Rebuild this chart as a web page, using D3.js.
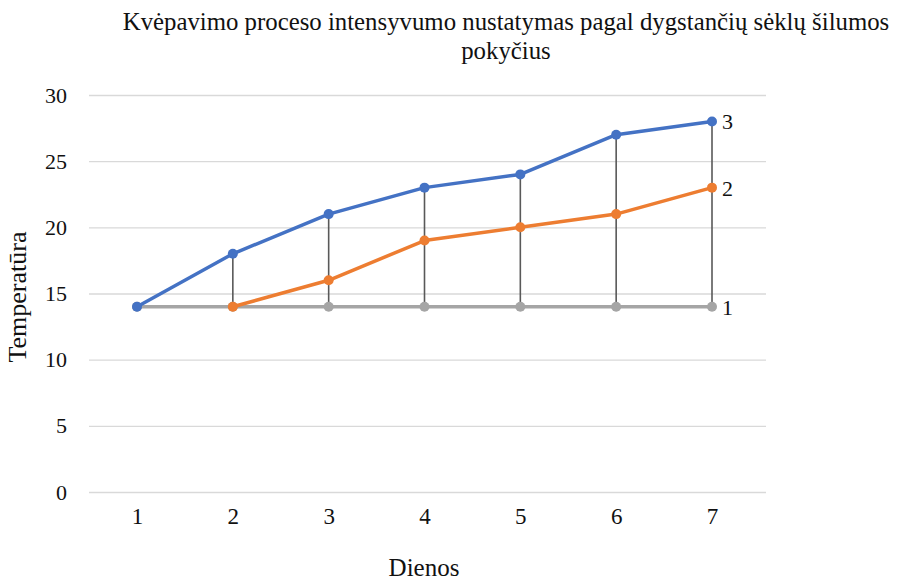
<!DOCTYPE html>
<meta charset="utf-8">
<style>
    body { margin: 0; background: #fff; }
    .grid line { stroke: #d9d9d9; stroke-width: 1.3px; }
    .grid path { stroke-width: 0; }
    .axis path, .axis line { display: none; }
    .drop { stroke: #595959; stroke-width: 1.6px; }
</style>
<body>
<script src="https://d3js.org/d3.v7.min.js"></script>
<script>
    // data
    var days = ["1", "2", "3", "4", "5", "6", "7"];
    var series1 = [14, 14, 14, 14, 14, 14, 14];
    var series2 = [null, 14, 16, 19, 20, 21, 23];
    var series3 = [14, 18, 21, 23, 24, 27, 28];
    var yTicks = [0, 5, 10, 15, 20, 25, 30];
    var seriesNames = ["1", "2", "3"];
    var colors = ["#a5a5a5", "#ed7d31", "#4472c4"];

    var serif = "'Times New Roman', 'Liberation Serif', serif";
    var ink = "#111";

    var W = 899, H = 582;
    var svg = d3.select("body").append("svg")
        .attr("width", W)
        .attr("height", H);

    var x = d3.scalePoint().domain(days).range([137, 712]);
    var y = d3.scaleLinear().domain([0, 30]).range([492, 95]);

    function label(sel, size) {
        return sel.style("font-family", serif)
            .style("font-size", size + "px")
            .attr("fill", ink);
    }

    // title
    label(svg.append("text"), 24.8)
        .attr("x", 506).attr("y", 30)
        .attr("text-anchor", "middle")
        .text("Kvėpavimo proceso intensyvumo nustatymas pagal dygstančių sėklų šilumos");
    label(svg.append("text"), 24.8)
        .attr("x", 506).attr("y", 59)
        .attr("text-anchor", "middle")
        .text("pokyčius");

    // gridlines
    svg.append("g")
        .attr("class", "grid")
        .attr("transform", "translate(89,0)")
        .call(d3.axisLeft(y).tickValues(yTicks).tickSize(-677).tickFormat(""));

    // y axis labels
    label(svg.append("g")
        .attr("class", "axis")
        .attr("transform", "translate(67,0)")
        .call(d3.axisLeft(y).tickValues(yTicks).tickSize(0).tickPadding(0))
        .selectAll("text"), 22);

    // x axis labels
    label(svg.append("g")
        .attr("class", "axis")
        .attr("transform", "translate(0,508)")
        .call(d3.axisBottom(x).tickSize(0).tickPadding(0))
        .selectAll("text"), 23);

    // axis titles
    label(svg.append("text"), 25)
        .attr("x", 424).attr("y", 576)
        .attr("text-anchor", "middle")
        .text("Dienos");
    label(svg.append("text"), 26)
        .attr("transform", "translate(26,297) rotate(-90)")
        .attr("text-anchor", "middle")
        .text("Temperatūra");

    // high-low drop lines
    svg.append("g").selectAll("line")
        .data(days)
        .join("line")
        .attr("class", "drop")
        .attr("x1", function(d) { return x(d); })
        .attr("x2", function(d) { return x(d); })
        .attr("y1", function(d, i) { return y(series3[i]); })
        .attr("y2", function(d, i) { return y(series1[i]); });

    var allSeries = [series1, series2, series3];
    var line = d3.line()
        .defined(function(d) { return d != null; })
        .x(function(d, i) { return x(days[i]); })
        .y(function(d) { return y(d); });

    allSeries.forEach(function(s, k) {
        svg.append("path")
            .datum(s)
            .attr("fill", "none")
            .attr("stroke", colors[k])
            .attr("stroke-width", 3.5)
            .attr("stroke-linejoin", "round")
            .attr("d", line);
        svg.append("g").selectAll("circle")
            .data(s.map(function(v, i) { return {v: v, i: i}; }).filter(function(d) { return d.v != null; }))
            .join("circle")
            .attr("cx", function(d) { return x(days[d.i]); })
            .attr("cy", function(d) { return y(d.v); })
            .attr("r", 5)
            .attr("fill", colors[k]);
        // series label at the end
        label(svg.append("text"), 22)
            .attr("x", x(days[days.length - 1]) + 10)
            .attr("y", y(s[s.length - 1]) + 8)
            .text(seriesNames[k]);
    });
</script>
</body>
